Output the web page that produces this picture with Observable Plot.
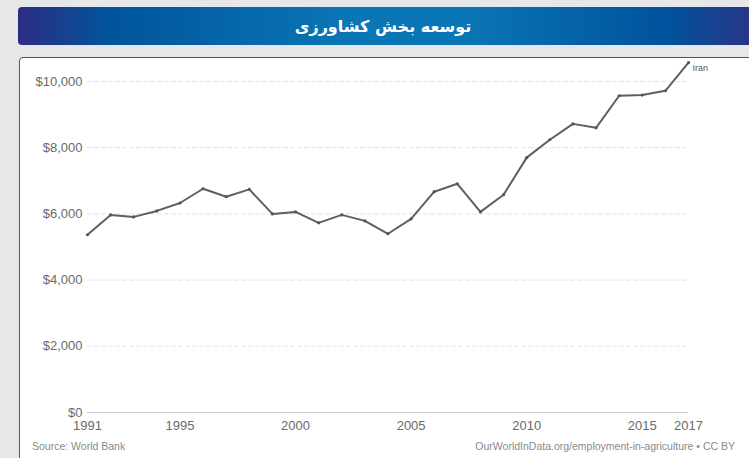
<!DOCTYPE html>
<html><head><meta charset="utf-8">
<script src="https://cdn.jsdelivr.net/npm/d3@7"></script>
<script src="https://cdn.jsdelivr.net/npm/@observablehq/plot@0.6"></script>
<style>
body{margin:0;background:#e6e7e9;width:749px;height:458px;overflow:hidden;position:relative;font-family:"Liberation Sans",Arial,sans-serif}
#hdr{position:absolute;left:18px;top:7px;width:740px;height:38px;border-radius:4px 0 0 4px;background:linear-gradient(to right,#2e2c84 0%,#01549b 12%,#0a76b6 45%,#0a76b6 60%,#00529c 88%,#2c3385 100%);color:#fff;font:bold 16px "DejaVu Sans",sans-serif;display:flex;align-items:center;justify-content:center;direction:rtl}
#hdr span{position:relative;left:-5px}
#panel{position:absolute;left:19px;top:57px;width:740px;height:420px;background:#fff;border:1.5px solid #555;border-radius:4px}
#chart{position:absolute;left:0;top:0}
.src{position:absolute;top:440px;font-size:10.5px;color:#8a8a8a;white-space:nowrap}
</style></head>
<body>
<div id="hdr"><span id="title"></span></div>
<div id="panel"></div>
<div id="chart"></div>
<div class="src" id="srcL" style="left:32px"></div>
<div class="src" id="srcR" style="right:14px"></div>
<script>
const titleText = "توسعه بخش کشاورزی";
const sourceLeft = "Source: World Bank";
const sourceRight = "OurWorldInData.org/employment-in-agriculture • CC BY";
const seriesName = "Iran";
const years = [1991,1992,1993,1994,1995,1996,1997,1998,1999,2000,2001,2002,2003,2004,2005,2006,2007,2008,2009,2010,2011,2012,2013,2014,2015,2016,2017];
const values = [5370,5970,5910,6090,6330,6760,6520,6740,6000,6060,5730,5970,5790,5400,5850,6670,6910,6060,6580,7700,8240,8720,8600,9570,9590,9720,10570];
const yTicks = [0,2000,4000,6000,8000,10000];
const xTicks = [1991,1995,2000,2005,2010,2015,2017];

document.getElementById("title").textContent = titleText;
document.getElementById("srcL").textContent = sourceLeft;
document.getElementById("srcR").textContent = sourceRight;

const data = years.map((y,i)=>({year:y, value:values[i]}));
const last = data[data.length-1];

const chart = Plot.plot({
  width:749, height:458,
  marginLeft:87, marginRight:61, marginTop:81, marginBottom:46,
  style:{background:"transparent", fontFamily:"Liberation Sans, Arial, sans-serif", fontSize:"13px", color:"#6a6a6a"},
  x:{domain:[1991,2017], label:null},
  y:{domain:[0,10000], label:null},
  marks:[
    Plot.gridY(yTicks.slice(1), {stroke:"#e4e4e4", strokeOpacity:1, strokeDasharray:"5,2"}),
    Plot.ruleY([0], {stroke:"#cccccc"}),
    Plot.axisX(xTicks, {tickSize:0, tickPadding:8, tickFormat:d=>String(d)}),
    Plot.axisY(yTicks, {tickSize:0, tickPadding:5, tickFormat:d=>"$"+d3.format(",")(d)}),
    Plot.line(data, {x:"year", y:"value", stroke:"#5f5f5f", strokeWidth:2}),
    Plot.dot(data, {x:"year", y:"value", r:1.6, fill:"#555"}),
    Plot.text([last], {x:"year", y:"value", text:()=>seriesName, dx:4, dy:5, textAnchor:"start", fontSize:9, fill:"#555"})
  ]
});
document.getElementById("chart").appendChild(chart);
</script>
</body></html>
